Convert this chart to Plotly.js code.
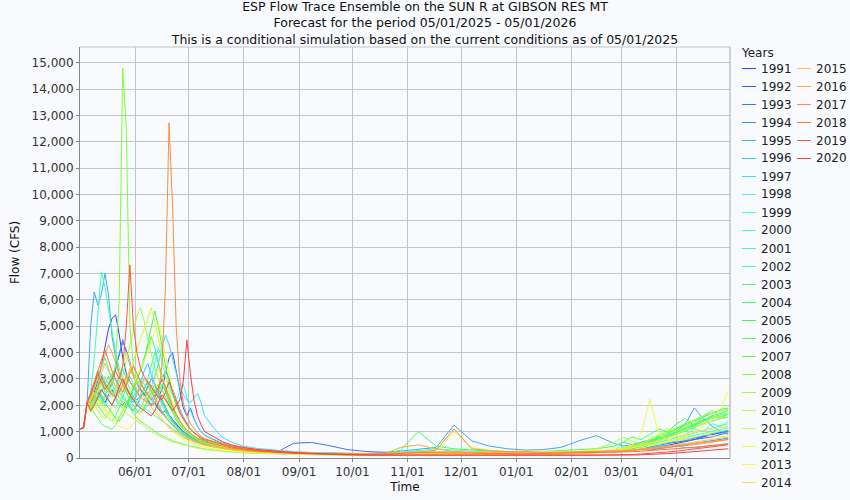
<!DOCTYPE html>
<html>
<head>
<meta charset="utf-8">
<script src="https://cdn.plot.ly/plotly-3.0.1.min.js"></script>
<style>
html,body{margin:0;padding:0;background:#f8fafe;}
#chart{width:850px;height:500px;}
</style>
</head>
<body>
<div id="chart"></div>
<script>
// ---- data ----
const titleLines = [
  'ESP Flow Trace Ensemble on the SUN R at GIBSON RES MT',
  'Forecast for the period 05/01/2025 - 05/01/2026',
  'This is a conditional simulation based on the current conditions as of 05/01/2025'
];
const tickDates = ['2025-06-01','2025-07-01','2025-08-01','2025-09-01','2025-10-01','2025-11-01','2025-12-01','2026-01-01','2026-02-01','2026-03-01','2026-04-01'];
const tickLabels = ['06/01','07/01','08/01','09/01','10/01','11/01','12/01','01/01','02/01','03/01','04/01'];
const years = [1991,1992,1993,1994,1995,1996,1997,1998,1999,2000,2001,2002,2003,2004,2005,2006,2007,2008,2009,2010,2011,2012,2013,2014,2015,2016,2017,2018,2019,2020];

// days after 05/01/2025 at which flows were read
const dayOffsets = [0,2,4,6,8,10,12,14,16,18,20,22,24,26,28,30,32,34,36,38,40,42,44,46,48,50,52,54,56,58,60,62,64,66,68,70,
  75,80,85,92,100,110,120,130,140,150,160,170,180,190,200,210,220,230,240,250,260,270,280,290,300,
  305,310,315,320,325,330,335,340,345,350,355,360,364];

const y1991 = [1100,1150,2100,2200,2500,2900,3500,4200,4900,5300,5430,4700,3800,3200,2900,2700,2500,2300,2500,2200,2000,2100,1900,1700,1800,1600,1450,1300,1150,1000,900,800,720,650,590,540,470,400,340,290,245,205,180,160,150,140,135,150,180,210,200,190,180,180,170,170,180,190,200,210,230,260,300,330,380,420,480,550,620,700,800,900,980,1050];
const y1992 = [1100,1150,2100,2000,2200,2500,2300,2100,2400,2600,2300,2100,2000,2200,1900,1800,2000,2300,2600,2900,2700,2500,2300,2600,3200,3800,4000,3300,2500,1900,1600,1900,1500,1200,1000,860,700,560,460,370,300,240,200,175,160,150,140,150,170,190,200,190,180,170,160,160,170,180,200,230,270,300,340,380,420,500,560,640,700,760,820,900,950,1000];
const y1993 = [1100,1150,2100,1900,2300,2700,3100,2800,2500,2900,3400,3900,4400,4100,3600,3200,2900,2600,2400,2700,3000,2800,2500,2200,1900,1650,1450,1300,1150,1000,900,820,740,670,610,560,480,410,350,290,240,200,560,590,470,320,250,220,210,230,220,210,200,190,190,180,190,200,210,240,270,300,350,400,450,500,550,600,650,700,750,800,900,950];
const y1994 = [1100,1150,2100,2400,2800,3300,3000,2700,2500,2800,3400,4000,4500,4000,3500,3100,2800,2600,2400,2200,2000,2300,2600,3000,3300,3000,2600,2200,1850,1550,1300,1100,950,830,740,660,560,470,400,330,270,220,190,170,160,150,145,160,200,230,220,210,200,190,180,180,190,200,210,230,260,300,350,400,300,350,400,450,500,550,600,650,700,750];
const y1995 = [1100,1150,2100,5000,6300,5800,6200,7000,6200,4600,3800,3200,2800,2600,2400,2300,2200,2400,2600,2400,2200,2000,1850,1700,1550,1400,1250,1100,980,880,800,730,670,620,570,530,460,400,350,300,260,230,210,190,180,175,170,200,260,330,400,1250,650,450,350,300,320,400,650,850,550,450,500,600,700,650,800,1000,1300,1900,1500,1200,1000,900];
const y1996 = [1100,1150,2100,2000,2400,2800,3200,2900,2600,2400,2700,3100,2800,2500,2300,2100,2400,2800,3300,3600,3200,2800,2400,2100,1850,1600,1400,1250,1100,980,880,800,730,670,610,560,480,410,350,290,240,205,180,165,155,150,145,160,190,230,220,210,200,190,180,180,190,200,210,220,240,260,300,350,400,450,500,450,400,380,420,460,500,550];
const y1997 = [1100,1150,2100,1800,2100,2400,2200,2000,2300,2500,2200,2000,1900,2100,2300,2200,2500,2800,2600,2400,2700,3100,3600,4200,4670,4300,3800,3200,2700,2400,2200,2100,2300,2450,2100,1600,1150,780,600,450,360,290,240,210,190,175,165,170,190,220,210,200,190,180,180,170,180,190,200,220,250,280,320,380,440,500,560,620,700,780,860,940,1000,1050];
const y1998 = [1100,1150,2100,2100,2500,2300,2100,2400,2800,3200,2900,2600,2400,2200,2000,2300,2700,3000,2800,2600,3000,3600,4200,3700,3100,2700,2400,2200,2500,2800,2300,1800,1450,1200,1000,860,720,580,480,390,320,260,220,195,180,170,160,170,200,220,210,200,190,180,180,170,180,190,200,210,230,260,300,420,600,800,700,650,900,1100,1000,1300,1200,1400];
const y1999 = [1100,1150,2100,1700,2000,2300,2600,2400,2200,2000,1900,2100,2400,2200,2000,1800,1700,1900,2200,2500,2300,2100,2400,2800,2500,2200,1900,1650,1400,1200,1050,920,820,740,670,610,520,440,380,310,260,215,185,165,150,140,135,160,220,280,350,300,250,220,200,190,200,220,240,260,300,330,380,430,500,560,620,700,780,860,940,1020,1100,1150];
const y2000 = [1100,1150,2100,2300,2700,3100,2800,2500,2200,2000,2400,2900,3400,3000,2600,2300,2100,1900,1800,2000,2300,2600,2300,2000,1750,1500,1300,1150,1020,910,820,740,670,610,560,520,450,380,330,280,235,200,175,160,150,140,130,150,190,240,220,200,190,180,170,170,180,190,200,230,270,320,380,450,520,600,680,760,850,950,1050,1150,1250,1300];
const y2001 = [1100,1150,2100,2500,3800,5500,7070,6500,5600,4800,4000,3400,3000,2700,2500,2300,2100,2000,1900,1800,1700,1600,1500,1400,1300,1200,1100,1000,900,820,750,690,630,580,540,500,430,370,320,270,230,195,170,155,145,135,125,150,200,260,230,210,200,190,180,170,180,190,220,260,320,400,480,560,650,750,860,980,1100,1250,1400,1550,1650,1700];
const y2002 = [1100,1150,2100,1900,2200,2000,1800,1600,1500,1400,1600,1900,2300,2700,3100,2800,2500,2300,2600,3000,3500,4000,3600,3100,2600,2200,1850,1550,1300,1120,980,870,780,700,630,570,480,410,350,290,245,205,175,160,145,135,125,140,180,220,200,190,180,170,160,160,170,180,200,230,280,340,420,500,600,700,820,950,1100,1250,1400,1500,1600,1650];
const y2003 = [1100,1150,2100,2200,2600,3000,3400,3800,3400,3000,2700,2500,2300,2100,1900,1800,2000,2300,2600,2900,2600,2300,2050,1800,1580,1400,1250,1120,1000,900,820,750,690,630,580,540,460,390,340,280,235,200,175,160,145,135,120,130,170,200,190,180,170,170,160,160,170,180,200,220,260,600,500,450,550,700,900,1100,1300,1200,1400,1600,1500,1700];
const y2004 = [1100,1150,2100,1800,2000,2200,2500,2800,3100,2800,2500,2300,2100,1900,2200,2600,3000,3400,3800,4200,4600,4200,3600,3000,2500,2100,1750,1450,1250,1080,950,840,750,680,620,570,480,400,340,280,235,195,165,145,130,115,105,130,300,1000,450,350,300,260,240,230,250,280,300,350,450,600,800,700,900,1100,1000,1300,1500,1200,1600,1800,1500,1700];
const y2005 = [1100,1150,2100,2000,2300,2700,2400,2100,1900,1700,1500,1400,1600,1900,2300,2700,3000,3300,3700,4300,4900,5580,5000,4200,3500,2900,2400,2000,1700,1450,1250,1100,970,860,770,690,560,460,390,320,265,220,190,170,155,140,130,140,170,200,190,180,170,170,160,160,170,180,190,220,260,330,420,520,650,800,950,1100,1250,1400,1550,1700,1850,1900];
const y2006 = [1100,1150,2100,2100,2400,2200,2000,2300,2700,3100,3500,3200,2800,2500,2200,2000,1800,1700,1900,2200,2500,2800,2500,2200,1900,1600,1380,1200,1050,930,830,750,680,620,570,520,440,370,320,265,225,190,165,150,140,130,120,125,150,180,170,160,160,150,150,150,160,170,180,200,240,300,380,480,600,720,860,1000,1150,1300,1450,1600,1700,1800];
const y2007 = [1100,1150,2100,1900,1700,1500,1300,1200,1150,1100,1250,1500,1800,2100,1900,1700,1500,1400,1300,1200,1100,1000,920,850,780,720,660,610,560,520,480,450,420,390,365,340,300,265,235,205,180,160,145,135,125,115,105,105,120,150,140,130,130,130,130,130,140,150,170,200,240,300,370,450,550,660,780,900,1020,1150,1300,1400,1500,1550];
const y2008 = [1100,1150,2100,2000,2300,2600,2900,2700,2500,2800,3600,6000,14800,12500,5000,3500,3000,2800,2600,2500,2400,2600,2800,2600,2300,2000,1700,1450,1250,1100,960,850,760,690,630,580,490,410,350,290,245,205,175,160,145,135,125,140,170,210,200,190,180,170,170,160,170,180,200,240,290,360,450,560,700,850,1000,1150,1300,1450,1600,1700,1800,1850];
const y2009 = [1100,1150,2100,1900,2200,2500,2800,3100,2800,2500,2300,2600,3100,3700,4300,4900,5400,5700,5200,4500,3900,3400,3000,2600,2250,1950,1700,1480,1300,1140,1000,890,800,720,650,590,500,420,360,300,250,210,180,160,145,135,125,135,160,200,190,180,170,170,160,160,170,180,200,230,270,330,400,480,570,680,800,920,1050,1180,1300,1400,1500,1550];
const y2010 = [1100,1150,2100,1800,2000,1800,1600,1500,1700,2000,2300,2100,1900,1700,1600,1500,1400,1300,1200,1100,1000,920,850,780,720,660,610,570,530,490,460,430,400,375,350,330,290,255,225,195,170,150,135,125,115,108,100,100,120,150,140,135,135,135,135,135,145,160,180,350,600,800,650,550,700,900,1100,1000,1200,1400,1300,1500,1600,1700];
const y2011 = [1100,1150,2100,2200,2500,2300,2100,1900,1700,1600,1800,2100,2500,2900,3300,3700,4100,4500,4900,5300,5700,5200,4500,3800,3100,2500,2050,1700,1430,1220,1060,930,830,740,670,610,520,440,370,310,255,215,185,165,150,140,130,145,175,220,200,190,180,170,170,160,170,180,200,230,270,320,380,440,500,560,620,680,750,820,900,980,1050,1100];
const y2012 = [1100,1150,2100,1800,2000,2200,2000,1800,1600,1500,1400,1600,1900,2200,2500,2800,3100,3400,3700,4000,4400,4800,5100,4600,3900,3200,2600,2100,1750,1480,1270,1100,970,860,770,700,590,490,410,340,280,230,195,170,150,140,130,140,160,200,190,1000,400,300,250,230,250,240,250,280,320,380,500,900,2240,900,700,650,700,800,900,850,800,850];
const y2013 = [1100,1150,2100,1700,1900,2100,1900,1700,1500,1400,1300,1200,1150,1100,1150,1300,1500,1800,2100,2400,2200,1950,1700,1480,1300,1140,1000,880,780,700,630,570,520,475,435,400,340,295,260,225,195,170,150,140,130,120,115,120,140,170,160,150,150,145,145,145,155,165,180,200,230,270,320,380,450,530,620,720,850,1000,1200,1500,1900,2560];
const y2014 = [1100,1150,2100,2400,2800,3200,3000,2700,2500,2300,2600,3000,3500,4000,3600,3200,2900,2700,2500,2300,2600,3000,3400,3100,2700,2300,1950,1650,1400,1200,1050,930,830,750,680,620,530,450,380,315,260,220,190,170,155,145,135,150,180,230,220,210,200,190,180,180,190,200,220,250,290,350,420,500,580,660,740,820,900,980,1050,1100,1150,1200];
const y2015 = [1100,1150,2100,2000,2400,2800,3200,3600,3300,3000,2700,2500,2700,3000,3400,3100,2800,2500,2300,2100,1900,1750,1600,1450,1300,1170,1050,950,860,780,710,650,600,550,510,475,410,355,310,265,225,190,165,150,140,130,120,135,160,200,190,180,170,160,160,150,160,170,180,200,220,250,280,320,360,400,450,500,550,600,650,700,750,800];
const y2016 = [1100,1150,2100,2300,2700,3100,3500,3900,4300,4000,3600,3200,2900,2600,2400,2200,2400,2700,3000,2800,2500,2250,2000,1750,1550,1380,1230,1100,980,880,790,720,660,600,550,510,440,380,330,280,235,200,175,160,145,135,125,140,400,500,350,250,220,200,190,180,190,200,210,230,250,270,300,330,360,400,440,480,520,560,600,640,680,700];
const y2017 = [1100,1150,2100,2100,2400,2700,3000,2800,2600,2400,2300,2500,2800,3100,2900,2700,2500,2300,2200,2100,2000,2100,2400,3500,6500,12720,9500,5000,3000,2100,1600,1300,1100,950,830,740,630,530,450,370,300,245,205,180,165,150,140,150,180,220,300,1100,350,280,250,230,220,220,230,240,250,270,290,310,340,370,400,430,470,510,550,600,650,700];
const y2018 = [1100,1150,2100,2500,2900,3300,3700,4100,3700,3300,3000,2700,2500,2800,3200,3500,3200,2900,2600,2400,2200,2400,2700,3000,2700,2300,1950,1650,1400,1200,1050,930,830,750,680,620,530,450,380,315,260,220,190,170,155,145,135,150,170,200,200,190,180,170,160,160,170,180,190,200,210,220,240,260,280,300,320,350,380,410,440,470,500,530];
const y2019 = [1100,1150,2100,2400,2800,3200,2900,2600,2800,3000,3300,3000,3500,5000,7330,5000,4000,3400,3100,2900,2700,2500,2300,2200,2500,2900,2500,2100,1750,1480,1270,1100,970,860,770,700,600,500,420,340,275,220,180,150,130,115,108,105,105,108,110,105,105,105,100,100,100,100,100,105,110,120,130,150,170,200,230,260,300,340,380,420,460,500];
const y2020 = [1100,1150,2100,1800,2000,2300,2600,2400,2200,2000,2300,2700,3000,2700,2400,2200,2000,1900,1800,1700,1600,1800,2100,2400,2200,2000,1800,2000,2200,2900,4480,3200,2200,1600,1250,1000,800,620,500,400,320,255,210,175,150,130,118,112,110,110,108,108,106,104,102,100,100,100,100,100,104,108,114,120,130,150,170,190,210,240,270,300,330,350];

const flows = [y1991,y1992,y1993,y1994,y1995,y1996,y1997,y1998,y1999,y2000,y2001,y2002,y2003,y2004,y2005,y2006,y2007,y2008,y2009,y2010,y2011,y2012,y2013,y2014,y2015,y2016,y2017,y2018,y2019,y2020];

// ---- build ----
flows.forEach((f, i) => {
  if (f.length !== dayOffsets.length) throw new Error('Series ' + years[i] + ' has ' + f.length + ' values, expected ' + dayOffsets.length);
});
const start = Date.UTC(2025, 4, 1);
const dates = dayOffsets.map(d => new Date(start + d * 86400000).toISOString().slice(0, 10));
const colorOf = i => 'hsl(' + (240 - i * 240 / (years.length - 1)).toFixed(1) + ',100%,62%)';

const traces = years.map((yr, i) => ({
  type: 'scatter', mode: 'lines', name: String(yr),
  x: dates, y: flows[i],
  line: {color: colorOf(i), width: 1},
  showlegend: false, hoverinfo: 'x+y+name'
}));

// plot box in pixels
const L = 80, R = 120, T = 47, B = 42, W = 850, H = 500;
const PW = W - L - R, PH = H - T - B;
const px = x => (x - L) / PW;
const py = y => (H - B - y) / PH;

const gridColor = '#c4c4c4';
const shapes = [
  {type: 'line', xref: 'paper', yref: 'paper', x0: 0, x1: 1, y0: 1, y1: 1, line: {color: gridColor, width: 1}},
  {type: 'line', xref: 'paper', yref: 'paper', x0: 1, x1: 1, y0: 0, y1: 1, line: {color: '#a8a8a8', width: 1}}
];
const annotations = [
  {xref: 'paper', yref: 'paper', x: px(739), y: py(52.5), xanchor: 'left', yanchor: 'middle', text: 'Years', showarrow: false, font: {size: 12, color: '#222'}}
];
const rowsPerCol = 24;
years.forEach((yr, i) => {
  const col = Math.floor(i / rowsPerCol), row = i % rowsPerCol;
  const yPix = 68.5 + row * 18;
  const lx0 = col === 0 ? 742 : 797;
  shapes.push({type: 'line', xref: 'paper', yref: 'paper', x0: px(lx0), x1: px(lx0 + 14), y0: py(yPix), y1: py(yPix), line: {color: colorOf(i), width: 1}});
  annotations.push({xref: 'paper', yref: 'paper', x: px(lx0 + 17), y: py(yPix), xanchor: 'left', yanchor: 'middle', text: String(yr), showarrow: false, font: {size: 12, color: '#222'}});
});

const layout = {
  width: W, height: H,
  margin: {l: L, r: R, t: T, b: B},
  paper_bgcolor: '#f8fafe', plot_bgcolor: '#f8fafe',
  font: {family: 'DejaVu Sans, sans-serif', size: 12, color: '#333'},
  title: {text: titleLines.join('<br>'), x: 0.5, xref: 'container', xanchor: 'center', y: 1, yref: 'container', yanchor: 'top', pad: {t: 11}, font: {size: 12.5, color: '#111'}},
  xaxis: {
    type: 'date', range: ['2025-05-01', '2026-05-01'],
    tickmode: 'array', tickvals: tickDates, ticktext: tickLabels,
    showgrid: true, gridcolor: gridColor, gridwidth: 1, zeroline: false,
    showline: true, linecolor: '#888', linewidth: 1,
    ticks: 'outside', ticklen: 3, tickcolor: '#888',
    tickfont: {size: 12, color: '#333'},
    title: {text: 'Time', standoff: 4, font: {size: 12, color: '#111'}},
    automargin: false
  },
  yaxis: {
    range: [0, 15600], tick0: 0, dtick: 1000, tickformat: ',d',
    showgrid: true, gridcolor: gridColor, gridwidth: 1, zeroline: false,
    showline: true, linecolor: '#888', linewidth: 1,
    ticks: 'outside', ticklen: 3, tickcolor: '#888',
    tickfont: {size: 12, color: '#333'},
    title: {text: 'Flow (CFS)', standoff: 9, font: {size: 12, color: '#111'}},
    automargin: false
  },
  showlegend: false,
  shapes: shapes,
  annotations: annotations
};

Plotly.newPlot('chart', traces, layout, {displayModeBar: false, staticPlot: true});
</script>
</body>
</html>
